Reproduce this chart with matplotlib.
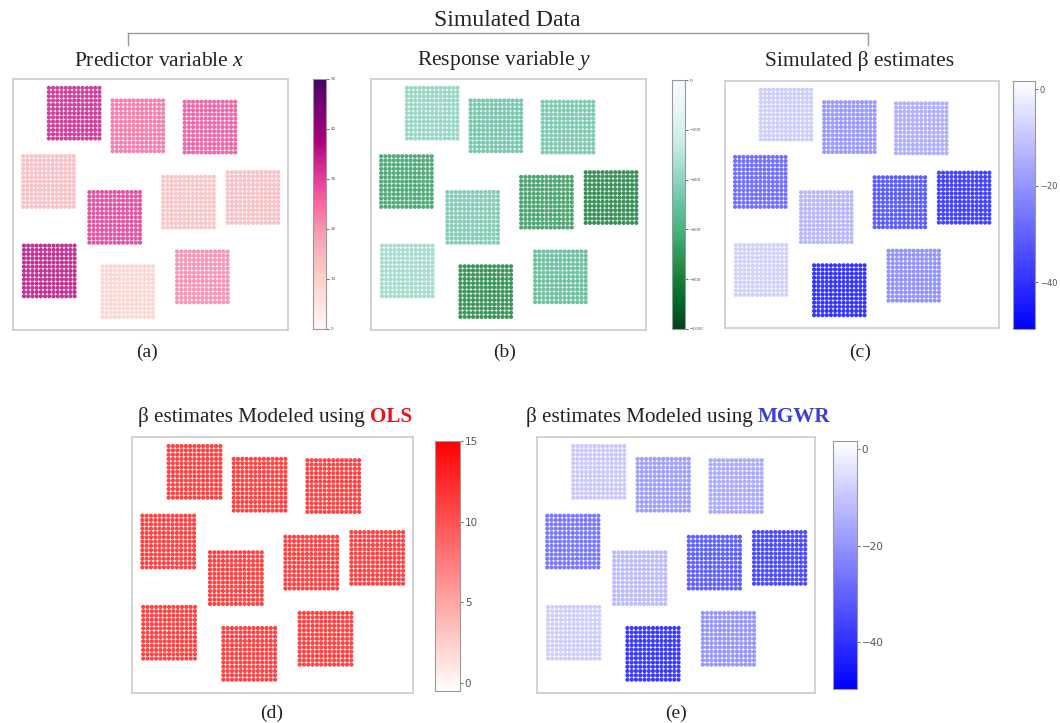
import numpy as np
import matplotlib
matplotlib.use('Agg')
import matplotlib.pyplot as plt
from matplotlib.colors import LinearSegmentedColormap
from matplotlib.lines import Line2D

plt.rcParams['font.family'] = ['Liberation Serif', 'DejaVu Serif']
plt.rcParams['mathtext.fontset'] = 'custom'
plt.rcParams['mathtext.it'] = 'Liberation Serif:italic'
plt.rcParams['mathtext.rm'] = 'Liberation Serif'

# lower-left corner of each 13x13 block of locations (grid units)
block_x0 = [8.0, 23.1, 40.2, 1.9, 17.6, 35.1, 50.4, 2.1, 20.7, 38.4]
block_y0 = [44.9, 41.9, 41.6, 28.7, 20.2, 23.8, 24.9, 7.5, 2.6, 6.1]

# one value per block
x_vals = [34, 25, 28, 15, 31, 14, 15, 36, 10, 22]
y_vals = [-420, -520, -500, -680, -480, -700, -800, -380, -780, -560]
beta_sim = [-10, -22, -17, -32, -15, -37, -43, -9, -46, -24]
beta_ols = [13, 13, 13, 13, 13, 13, 13, 13, 13, 13]
beta_mgwr = [-11, -21, -18, -30, -14, -36, -41, -10, -45, -23]

W, H = 1060, 723
fig = plt.figure(figsize=(W / 100, H / 100), dpi=100)


def box(l, t, r, b):
    return [l / W, 1 - b / H, (r - l) / W, (b - t) / H]


blues = LinearSegmentedColormap.from_list('wb', ['#0000ff', '#ffffff'])
reds = LinearSegmentedColormap.from_list('wr', ['#ffffff', '#ff0000'])

offs = np.arange(13)
gx, gy = np.meshgrid(offs, offs)


def panel(pos, cpos, vals, cmap, vmin, vmax, ticks, tsize):
    ax = fig.add_axes(box(*pos))
    xs, ys, cs = [], [], []
    for x0, y0, v in zip(block_x0, block_y0, vals):
        xs.append(gx.ravel() + x0)
        ys.append(gy.ravel() + y0)
        cs.append(np.full(gx.size, v, dtype=float))
    sc = ax.scatter(np.concatenate(xs), np.concatenate(ys), c=np.concatenate(cs),
                    cmap=cmap, vmin=vmin, vmax=vmax, s=9, linewidths=0, alpha=0.85)
    ax.set_xlim(-0.5, 64.7)
    ax.set_ylim(-0.5, 59)
    ax.set_xticks([])
    ax.set_yticks([])
    for sp in ax.spines.values():
        sp.set_color('#cccccc')
        sp.set_linewidth(1.2)
    cax = fig.add_axes(box(*cpos))
    cb = fig.colorbar(sc, cax=cax, ticks=ticks)
    cb.solids.set_alpha(1)
    cb.outline.set_edgecolor('#999999')
    cb.outline.set_linewidth(0.8)
    cax.tick_params(labelsize=tsize, colors='#555555', length=2, width=0.6, pad=1.5)
    for lab in cax.get_yticklabels():
        lab.set_family('DejaVu Sans')
    return ax


panel((13, 79, 288, 330), (313, 79, 326, 329), x_vals, 'RdPu', 0, 50,
      [0, 10, 20, 30, 40, 50], 3)
panel((371, 79, 646, 330), (672, 80, 685, 329), y_vals, 'BuGn_r', -1000, 0,
      [0, -200, -400, -600, -800, -1000], 3)
panel((725, 81, 999, 328), (1013, 81, 1035, 329), beta_sim, blues, -49.7, 1.7,
      [0, -20, -40], 6)
panel((132, 437, 413, 693), (435, 441, 460, 691), beta_ols, reds, -0.5, 15,
      [0, 5, 10, 15], 7.5)
panel((537, 437, 815, 693), (833, 441, 857, 689), beta_mgwr, blues, -49.7, 1.7,
      [0, -20, -40], 7.5)

# titles
fig.text(507 / W, 1 - 20 / H, 'Simulated Data', ha='center', va='center', fontsize=17, color='#222222')
fig.text(159 / W, 1 - 61 / H, 'Predictor variable $x$', ha='center', va='center', fontsize=15.5, color='#222222')
fig.text(504 / W, 1 - 61 / H, 'Response variable $y$', ha='center', va='center', fontsize=15.5, color='#222222')
fig.text(860 / W, 1 - 61 / H, 'Simulated β estimates', ha='center', va='center', fontsize=15.5, color='#222222')

# bracket
bc = '#999999'
fig.add_artist(Line2D([128 / W, 868 / W], [1 - 33 / H, 1 - 33 / H], color=bc, lw=1))
fig.add_artist(Line2D([128 / W, 128 / W], [1 - 33 / H, 1 - 45 / H], color=bc, lw=1))
fig.add_artist(Line2D([868 / W, 868 / W], [1 - 33 / H, 1 - 45 / H], color=bc, lw=1))

# panel letters
for lab, px, py in [('(a)', 147, 352), ('(b)', 505, 352), ('(c)', 860, 352),
                    ('(d)', 272, 713), ('(e)', 676, 713)]:
    fig.text(px / W, 1 - py / H, lab, ha='center', va='center', fontsize=14, color='#222222')

# two-colour titles for the modelled estimates
renderer = fig.canvas.get_renderer()


def two_tone(cx, cy, first, second, color):
    t1 = fig.text(0, 1 - cy / H, first, ha='left', va='center', fontsize=15.2, color='#222222')
    t2 = fig.text(0, 1 - cy / H, second, ha='left', va='center', fontsize=15.2,
                  color=color, fontweight='bold')
    w1 = t1.get_window_extent(renderer).width
    w2 = t2.get_window_extent(renderer).width
    left = cx - (w1 + w2) / 2
    t1.set_x(left / W)
    t2.set_x((left + w1) / W)


two_tone(275, 417, 'β estimates Modeled using ', 'OLS', '#e8141c')
two_tone(678, 417, 'β estimates Modeled using ', 'MGWR', '#3d3dd8')

fig.savefig('out.png', dpi=100)
